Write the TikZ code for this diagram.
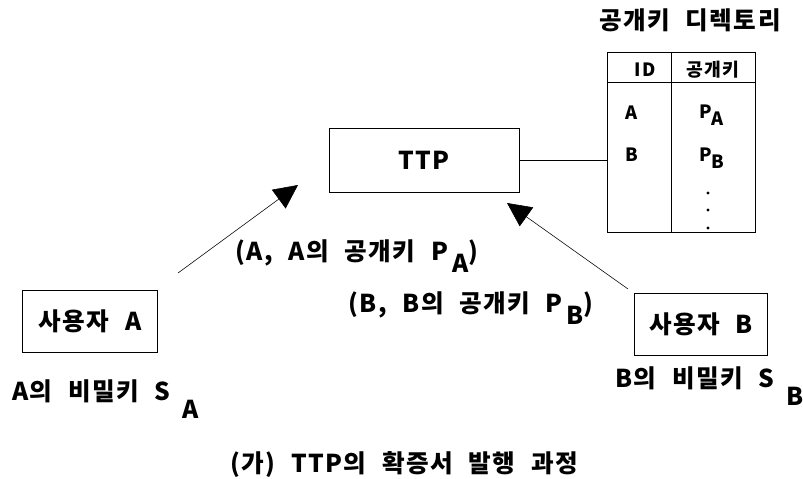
\documentclass[tikz,border=0pt]{standalone}
\usepackage{fontspec}
\setmainfont{Noto Sans CJK KR}[LetterSpace=6, WordSpace=2.2]
\usetikzlibrary{arrows.meta}
\newcommand{\lowsub}[2]{\raisebox{-#1}{#2}}
\begin{document}
\begin{tikzpicture}[x=0.025cm, y=-0.025cm,
    every node/.style={inner sep=0pt, font=\fontsize{17.5}{20}\selectfont\bfseries},
    box/.style={draw, thin},
    small/.style={font=\fontsize{13}{15}\selectfont\bfseries},
    send/.style={-{Triangle[length=17pt,width=16.5pt]}}]
  \useasboundingbox (0,0) rectangle (803,479);
  % boxes
  \node [box, minimum width=4.75cm, minimum height=1.6cm] (ttp) at (424,160) {TTP};
  \node [box, minimum width=3.375cm, minimum height=1.55cm] (usera) at (90,321) {사용자 A};
  \node [box, minimum width=3.325cm, minimum height=1.55cm] (userb) at (701,324) {사용자 B};
  % public key directory
  \node [] (dirtitle) at (690,20) {공개키 디렉토리};
  \node [box, minimum width=3.7cm, minimum height=4.5cm] (dir) at (681,142) {};
  \coordinate (hd) at (607,82);
  \coordinate (col) at (671,52);
  \draw (dir.west |- hd) -- (dir.east |- hd);
  \draw (col) -- (col |- dir.south);
  \node [small] (idh) at (645,70) {ID};
  \node [small] (keyh) at (713,70) {공개키};
  \node [small] (ida) at (632,113) {A};
  \node [small] (idb) at (632,155) {B};
  \node [small, anchor=base west] (pa) at (699,118) {P\lowsub{5pt}{A}};
  \node [small, anchor=base west] (pb) at (699,161) {P\lowsub{5pt}{B}};
  \foreach \y in {193,210,228}
    \fill (708,\y) circle (1.2pt);
  \draw (ttp.east) -- (dir.west |- ttp.east);
  % arrows to TTP
  \coordinate (froma) at (178,273);
  \coordinate (toa) at (298,185);
  \coordinate (fromb) at (628,289);
  \coordinate (tob) at (507,203);
  \draw [send] (froma) -- (toa);
  \draw [send] (fromb) -- (tob);
  \node [anchor=base west] (senda) at (235,260) {(A, A의 공개키 P\,\lowsub{9pt}{A})};
  \node [anchor=base west] (sendb) at (348,312) {(B, B의 공개키 P\,\lowsub{9pt}{B})};
  % secret keys
  \node [anchor=base west] (seca) at (12,400) {A의 비밀키 S\enspace\lowsub{13pt}{A}};
  \node [anchor=base west] (secb) at (615,387) {B의 비밀키 S\enspace\lowsub{13pt}{B}};
  \node [] (caption) at (404,465) {(가) TTP의 확증서 발행 과정};
\end{tikzpicture}
\end{document}
